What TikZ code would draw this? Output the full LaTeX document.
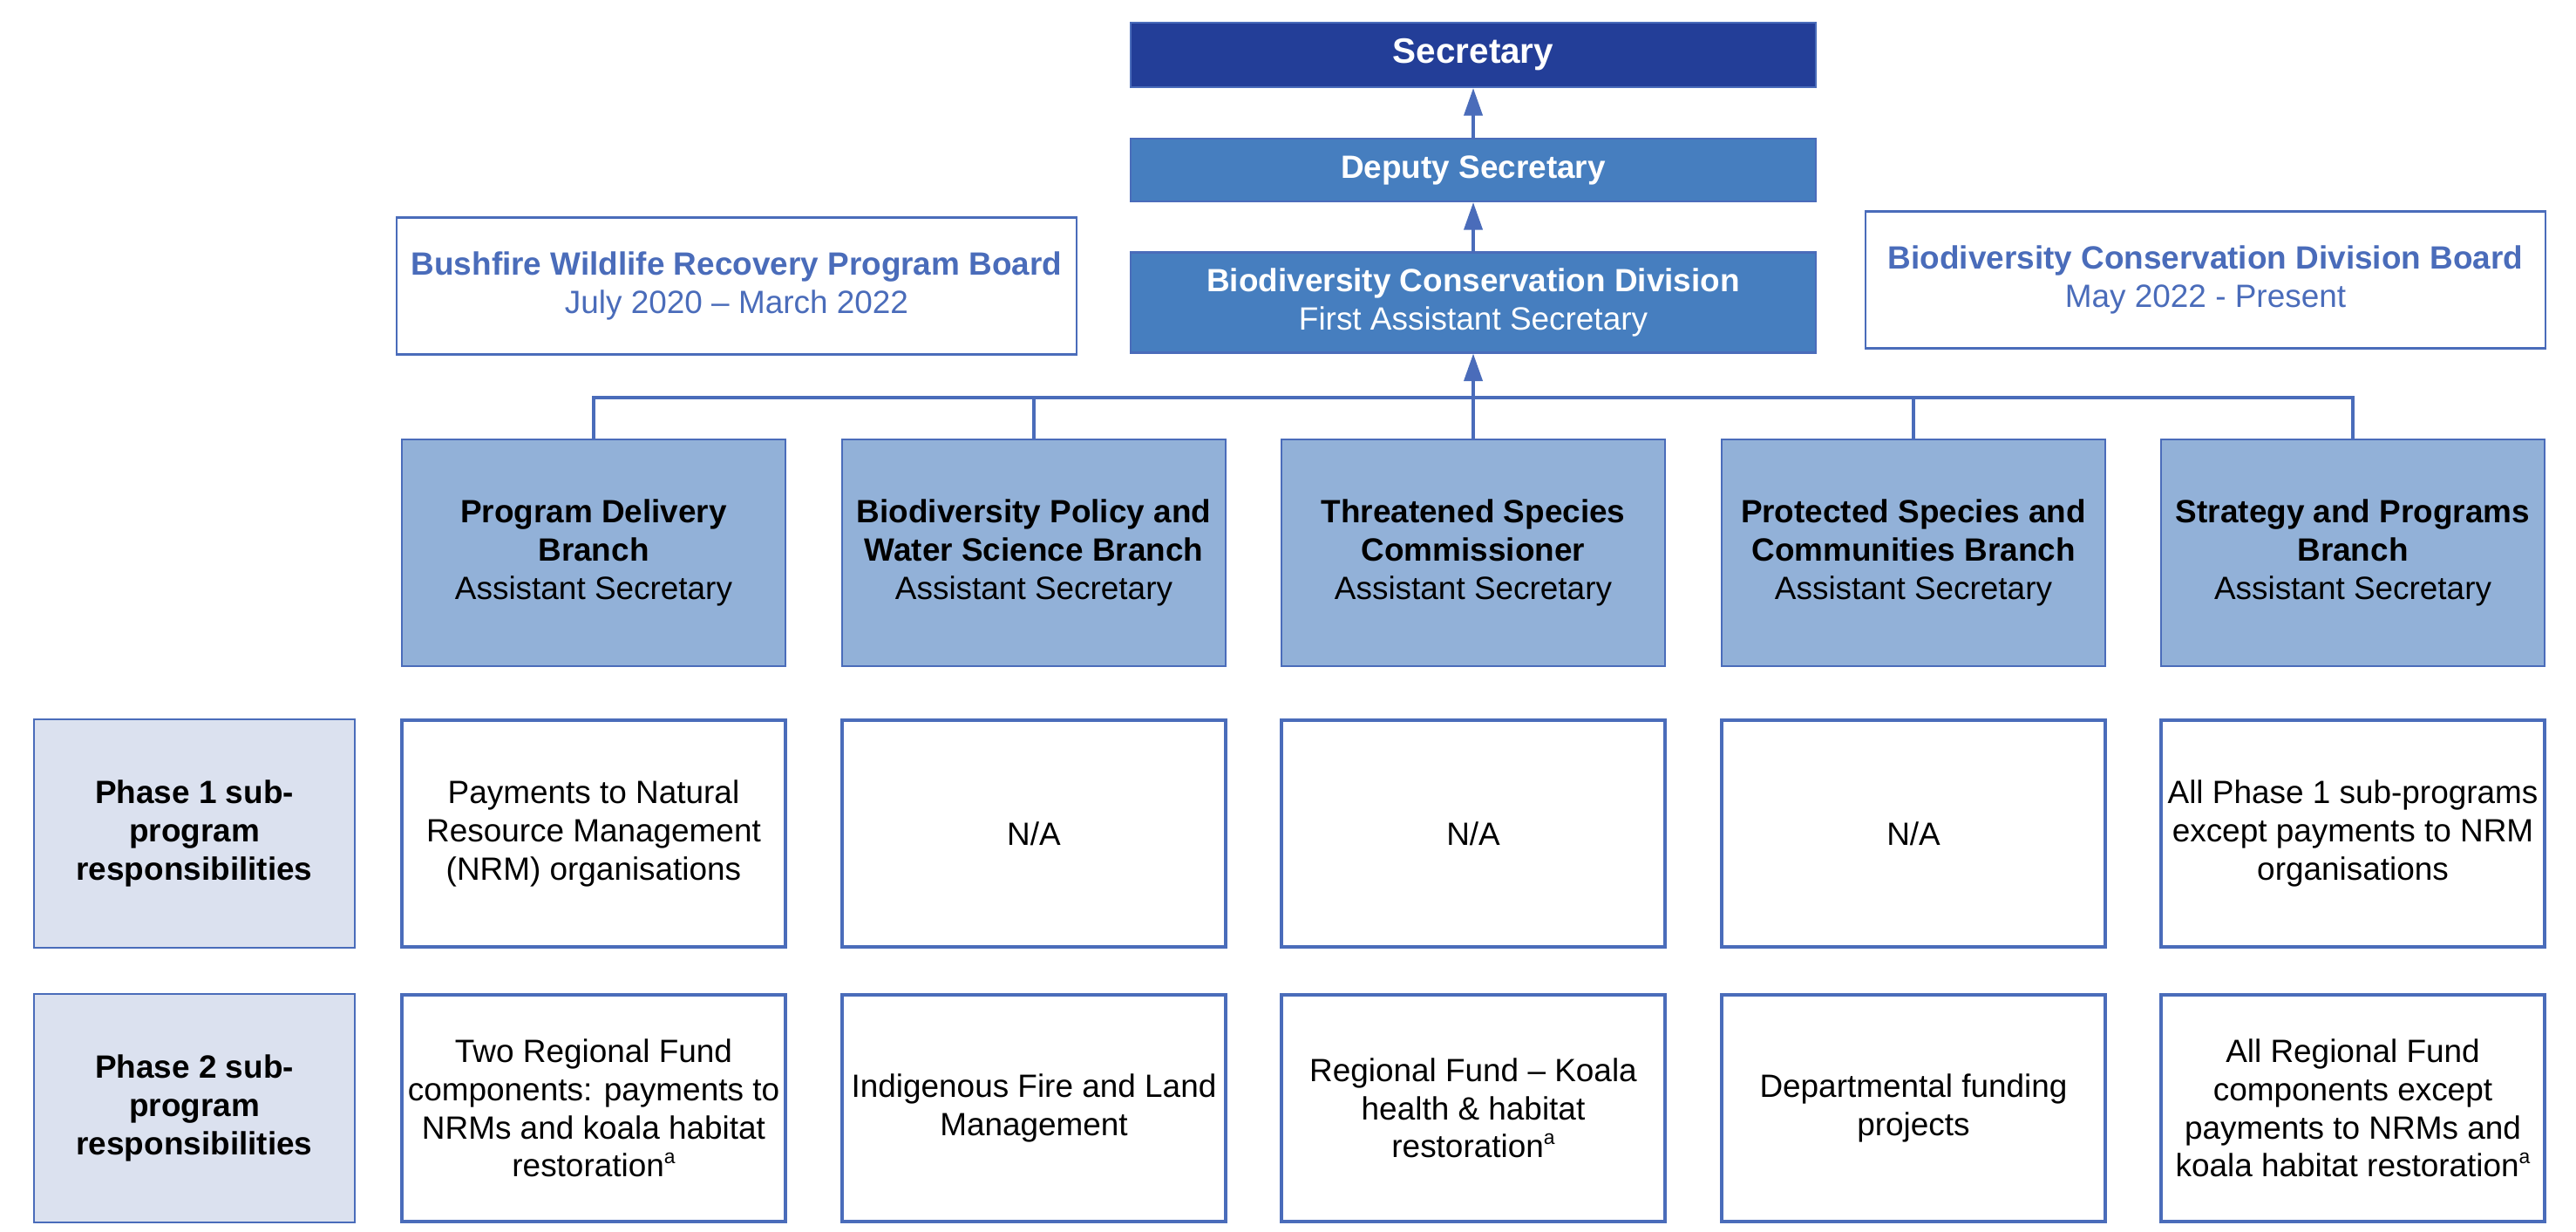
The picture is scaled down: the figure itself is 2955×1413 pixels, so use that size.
\documentclass[tikz,border=0pt]{standalone}
\usepackage{fontspec}
\setmainfont{Liberation Sans}
\usepackage{xcolor}
\usepackage{tikz}
\usetikzlibrary{arrows.meta, positioning}
\definecolor{secblue}{HTML}{233E98}
\definecolor{divblue}{HTML}{467EBF}
\definecolor{brblue}{HTML}{92B1D8}
\definecolor{phblue}{HTML}{DBE1EF}
\definecolor{lnblue}{HTML}{4A6CBA}
\tikzset{
  box/.style={draw=lnblue, line width=0.6pt, inner sep=0pt, align=center,
    font=\fontsize{10.5}{12.4}\selectfont},
  topbox/.style={box, minimum width=7.86cm, text=white},
  board/.style={box, fill=white, text=lnblue, minimum width=7.8cm, minimum height=1.57cm},
  branch/.style={box, fill=brblue, minimum width=4.4cm, minimum height=2.6cm},
  phase/.style={box, fill=phblue, minimum width=3.67cm, minimum height=2.61cm},
  resp/.style={box, fill=white, line width=1.1pt, minimum width=4.4cm, minimum height=2.6cm},
  conn/.style={draw=lnblue, line width=1.1pt},
  arr/.style={conn, -{Triangle[width=6pt,length=9pt]}}
}
\newcommand{\supa}{\raisebox{0.8ex}{\fontsize{6.5}{6.5}\selectfont a}}

\begin{document}
\begin{tikzpicture}[x=0.01cm, y=-0.01cm]
\useasboundingbox (0,0) rectangle (2955,1413);
% top of the chart
\node[topbox, fill=secblue, minimum height=0.74cm, font=\fontsize{11.5}{13}\selectfont\bfseries] (sec) at (1690,63) {Secretary};
\node[topbox, fill=divblue, minimum height=0.72cm] (dep) at (1690,195) {\textbf{Deputy Secretary}};
\node[topbox, fill=divblue, minimum height=1.15cm] (bcd) at (1690,347) {\textbf{Biodiversity Conservation Division}\\First Assistant Secretary};
\node[board] (bwrb) at (845,328) {\textbf{Bushfire Wildlife Recovery Program Board}\\July 2020 -- March 2022};
\node[board] (bcdb) at (2530,321) {\textbf{Biodiversity Conservation Division Board}\\May 2022 - Present};
\draw[arr] (dep.north) -- (sec.south);
\draw[arr] (bcd.north) -- (dep.south);
% branches
\node[branch] (pdb) at (681,634) {\textbf{Program Delivery}\\\textbf{Branch}\\Assistant Secretary};
\node[branch] (bpw) at (1186,634) {\textbf{Biodiversity Policy and}\\\textbf{Water Science Branch}\\Assistant Secretary};
\node[branch] (tsc) at (1690,634) {\textbf{Threatened Species}\\\textbf{Commissioner}\\Assistant Secretary};
\node[branch] (psc) at (2195,634) {\textbf{Protected Species and}\\\textbf{Communities Branch}\\Assistant Secretary};
\node[branch] (spb) at (2699,634) {\textbf{Strategy and Programs}\\\textbf{Branch}\\Assistant Secretary};
\coordinate (bus) at (0,456);
\draw[conn] (pdb.north) -- (pdb.north |- bus) -- (spb.north |- bus) -- (spb.north);
\foreach \b in {bpw, psc}
  \draw[conn] (\b.north) -- (\b.north |- bus);
\draw[arr] (tsc.north) -- (bcd.south);
% phase rows
\node[phase] (ph1) at (223,956) {\textbf{Phase 1 sub-}\\\textbf{program}\\\textbf{responsibilities}};
\node[phase] (ph2) at (223,1271) {\textbf{Phase 2 sub-}\\\textbf{program}\\\textbf{responsibilities}};
\node[resp] (pdb1) at (681,956) {Payments to Natural\\Resource Management\\(NRM) organisations};
\node[resp] (bpw1) at (1186,956) {N/A};
\node[resp] (tsc1) at (1690,956) {N/A};
\node[resp] (psc1) at (2195,956) {N/A};
\node[resp] (spb1) at (2699,956) {All Phase 1 sub-programs\\except payments to NRM\\organisations};
\node[resp] (pdb2) at (681,1271) {Two Regional Fund\\components: payments to\\NRMs and koala habitat\\restoration\supa};
\node[resp] (bpw2) at (1186,1271) {Indigenous Fire and Land\\Management};
\node[resp] (tsc2) at (1690,1271) {Regional Fund -- Koala\\health \& habitat\\restoration\supa};
\node[resp] (psc2) at (2195,1271) {Departmental funding\\projects};
\node[resp] (spb2) at (2699,1271) {All Regional Fund\\components except\\payments to NRMs and\\koala habitat restoration\supa};
\end{tikzpicture}
\end{document}
